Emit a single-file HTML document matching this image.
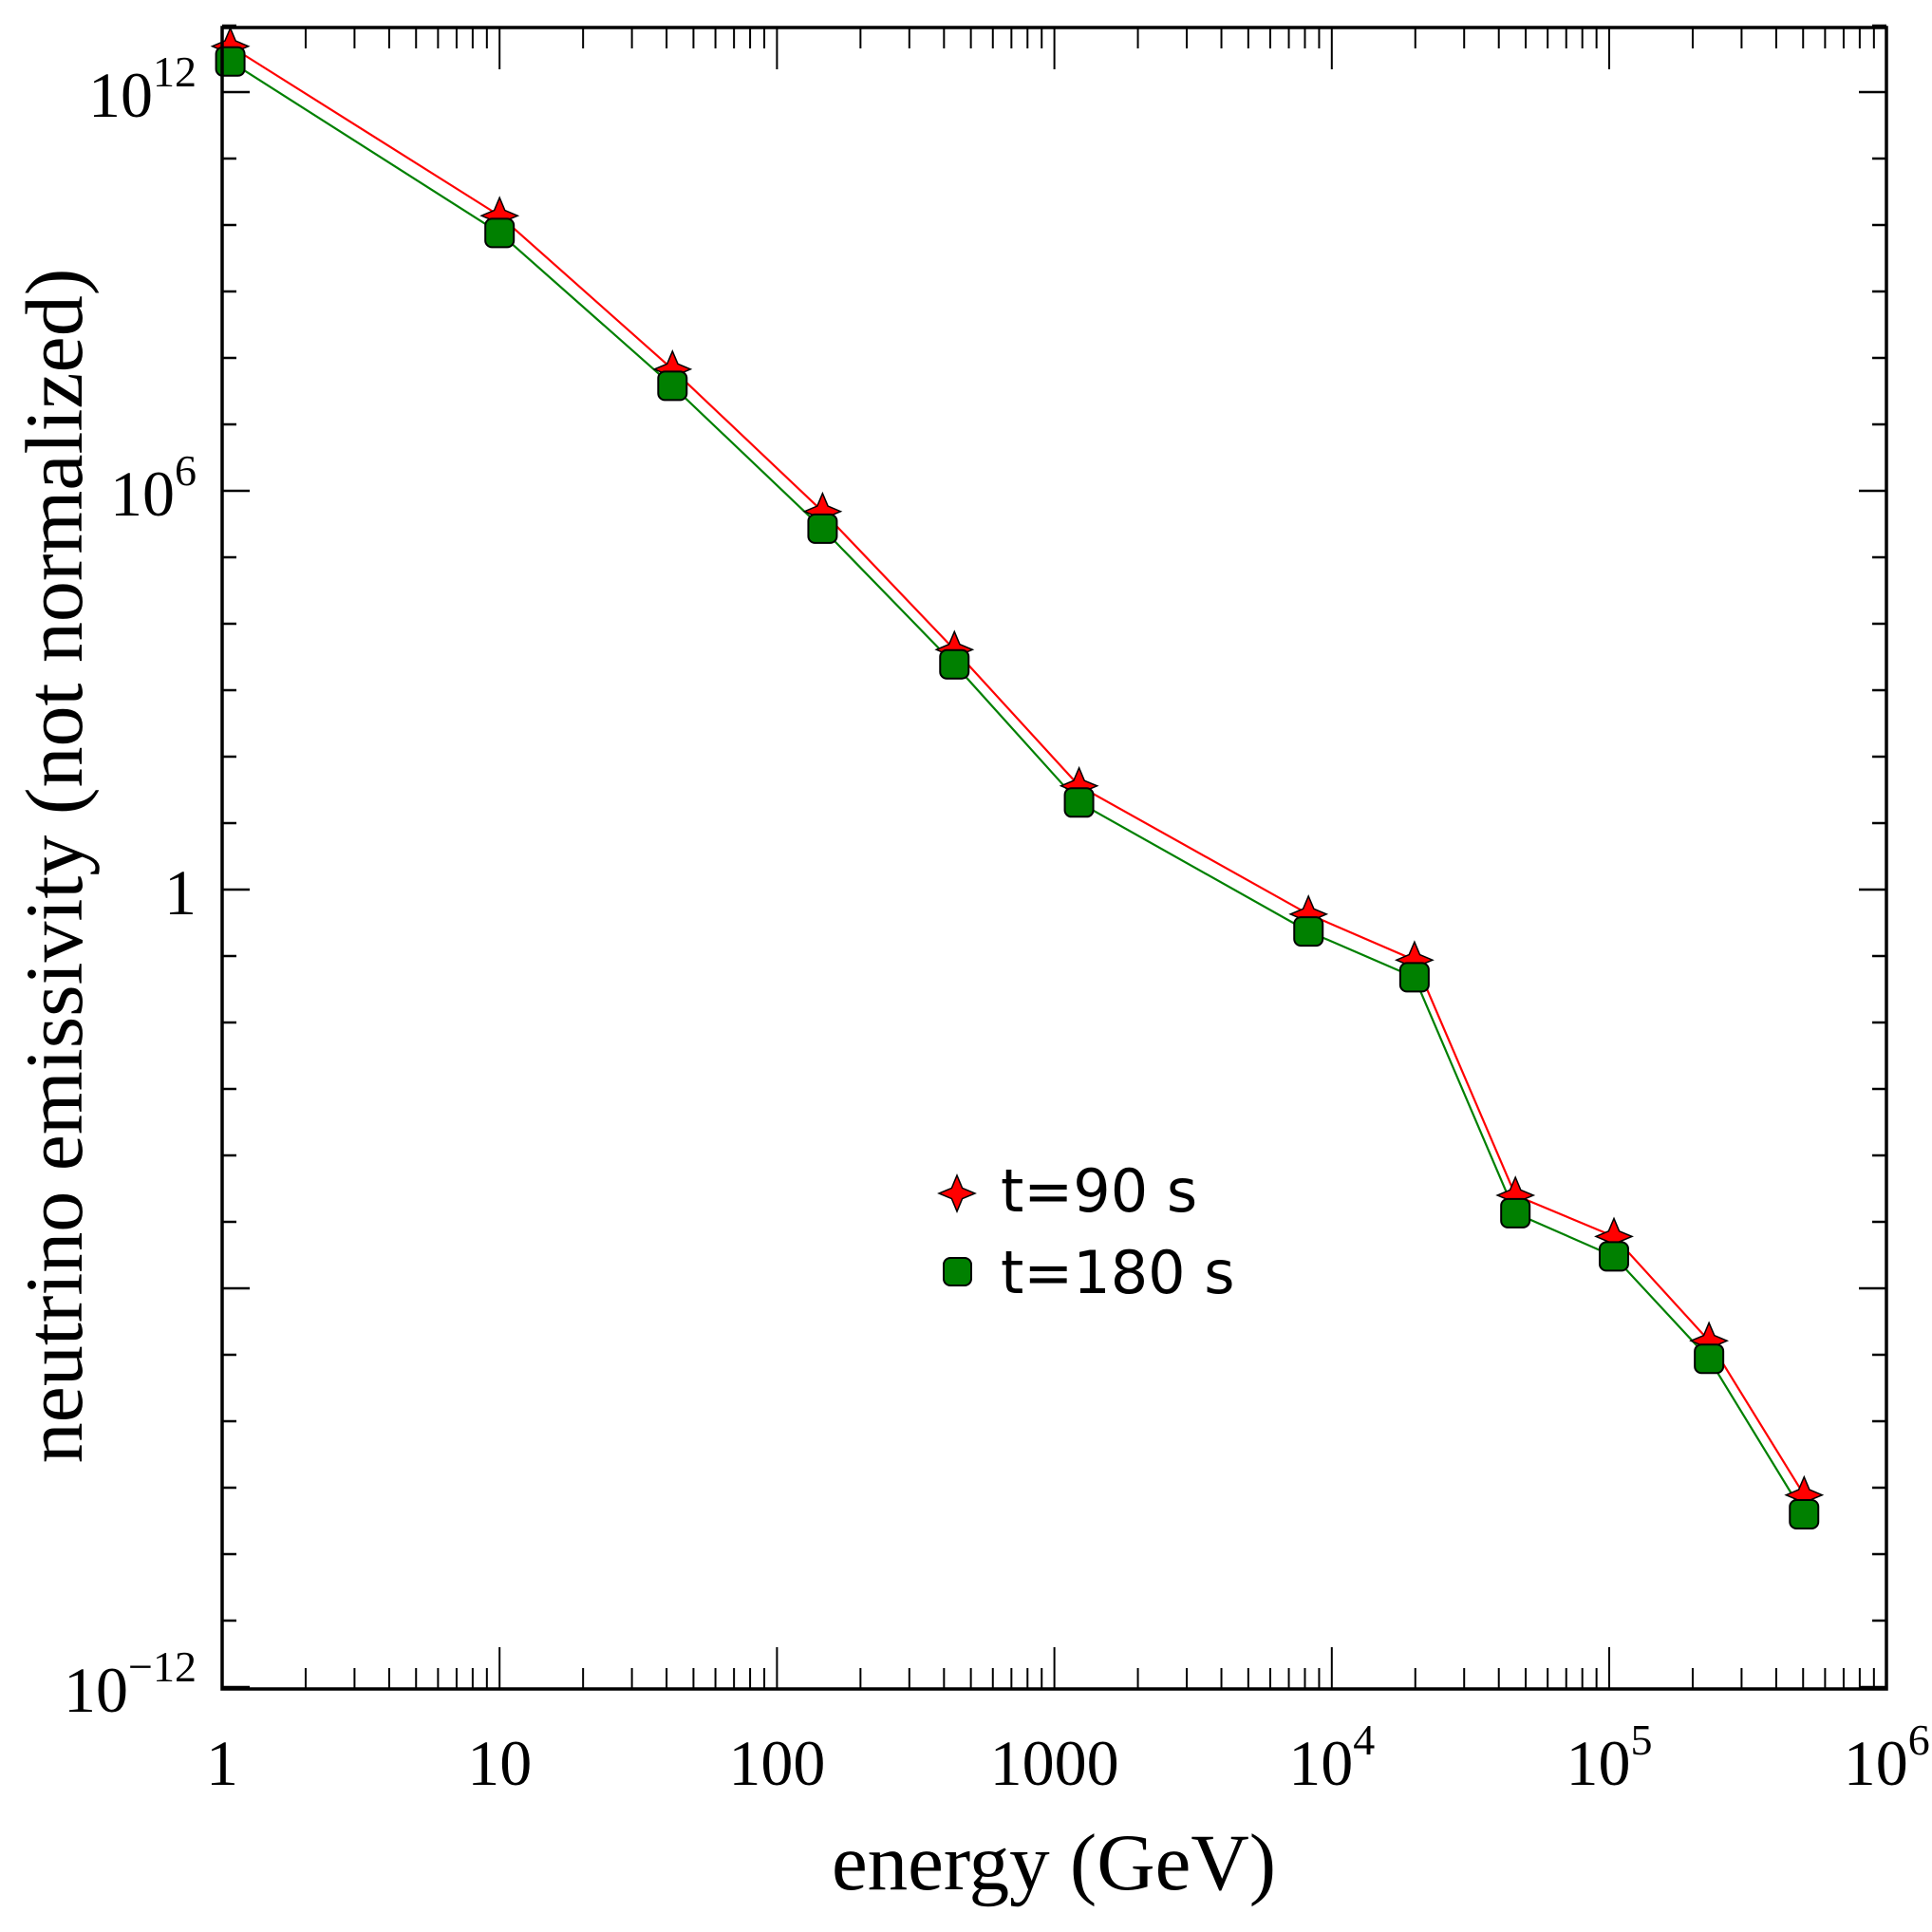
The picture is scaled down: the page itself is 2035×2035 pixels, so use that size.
<!DOCTYPE html>
<html><head><meta charset="utf-8"><style>
html,body{margin:0;padding:0;background:#fff;}
svg{display:block;}
</style></head><body>
<svg id="chart" width="2035" height="2035" viewBox="0 0 2035 2035" xmlns="http://www.w3.org/2000/svg">
<g id="ticks"></g>
<g id="series"></g>
<rect x="234" y="29" width="1753" height="1750" fill="none" stroke="#000" stroke-width="3.5"/>
<g id="labels" font-family="'Liberation Serif',serif" font-size="68" fill="#000"></g>
<text x="1110" y="1990" text-anchor="middle" font-family="'Liberation Serif',serif" font-size="85">energy (GeV)</text>
<text transform="translate(86,912) rotate(-90)" text-anchor="middle" font-family="'Liberation Serif',serif" font-size="86">neutrino emissivity (not normalized)</text>
<g>
<g>
<path id="legStar" d="" fill="#f00" stroke="#000" stroke-width="1.5"/>
<text x="1054" y="1276" font-family="'DejaVu Sans',sans-serif" font-size="62">t=90 s</text>
</g>
<g>
<rect x="994" y="1325" width="29" height="29" rx="7" fill="#008000" stroke="#000" stroke-width="2"/>
<text x="1054" y="1362" font-family="'DejaVu Sans',sans-serif" font-size="62">t=180 s</text>
</g>
</g>
</svg>
<script>
const energies = [1.07, 10, 42, 146, 436, 1227, 8240, 19860, 45900, 104000, 229000, 504000];
const logT90 = [12.69, 10.14, 7.83, 5.69, 3.61, 1.56, -0.37, -1.06, -4.6, -5.22, -6.79, -9.11];
const logT180 = [12.46, 9.88, 7.58, 5.43, 3.39, 1.31, -0.63, -1.32, -4.87, -5.52, -7.06, -9.40];
const xTickLabels = ["1","10","100","1000","10|4","10|5","10|6"];
const yTickValues = [12, 6, 0, -12];
const yTickLabels = ["10|12","10|6","1","10|−12"];

const L=234,R=1987,T=29,B=1779,XD=292.2,YD=70.0,Y0=1777;
const NS="http://www.w3.org/2000/svg";
function xs(v){return L+Math.log10(v)*XD;}
function ysLog(lv){return Y0-(lv+12)*YD;}
function mk(tag,attrs,parent){const e=document.createElementNS(NS,tag);for(const k in attrs)e.setAttribute(k,attrs[k]);parent.appendChild(e);return e;}
function starPath(cx,cy,r){let d="";for(let i=0;i<8;i++){const a=-Math.PI/2+i*Math.PI/4;const rr=i%2?r*0.42:r;d+=(i?"L":"M")+(cx+rr*Math.cos(a)).toFixed(1)+","+(cy+rr*Math.sin(a)).toFixed(1);}return d+"Z";}

const ticks=document.getElementById('ticks');
for(let d=0;d<6;d++){for(let m=1;m<10;m++){const v=Math.pow(10,d)*m;const x=xs(v);const len=m===1?44:22;
 const t1=mk('line',{x1:x,y1:B,x2:x,y2:B-len,stroke:'#000','stroke-width':2},ticks);
 
 
 const t2=mk('line',{x1:x,y1:T,x2:x,y2:T+len,stroke:'#000','stroke-width':2},ticks);
 
 }}
for(let lv=-12;lv<=13;lv++){const y=ysLog(lv);const len=(lv%6===0)?29:15;
 const t1=mk('line',{x1:L,y1:y,x2:L+len,y2:y,stroke:'#000','stroke-width':2.5},ticks);
 
 
 const t2=mk('line',{x1:R,y1:y,x2:R-len,y2:y,stroke:'#000','stroke-width':2.5},ticks);
 
 }

const labels=document.getElementById('labels');
function label(txt,x,y,anchor,name){
 const parts=txt.split('|');
 const t=mk('text',{x:x,y:y,'text-anchor':anchor},labels);
 
 
 t.textContent=parts[0];
 if(parts[1]){const s=mk('tspan',{dy:-32,'font-size':46},t);s.textContent=parts[1];}
}
xTickLabels.forEach((s,i)=>{label(s,xs(Math.pow(10,i)),1880,'middle','x-tick-label');});
yTickValues.forEach((lv,i)=>{label(yTickLabels[i],207,ysLog(lv)+26,'end','y-tick-label');});

const series=document.getElementById('series');
function line(vals,color,name){let d="";energies.forEach((e,i)=>{d+=(i?"L":"M")+xs(e).toFixed(1)+","+ysLog(vals[i]).toFixed(1);});
 const p=mk('path',{d:d,fill:'none',stroke:color,'stroke-width':2.2},series);
 
 }
line(logT90,'#f00','line-t90');
line(logT180,'#008000','line-t180');
energies.forEach((e,i)=>{
 const p=mk('path',{d:starPath(xs(e),ysLog(logT90[i]),19),fill:'#f00',stroke:'#000','stroke-width':1.5},series);
 
 });
energies.forEach((e,i)=>{
 const r=mk('rect',{x:xs(e)-15,y:ysLog(logT180[i])-15,width:30,height:30,rx:7,fill:'#008000',stroke:'#000','stroke-width':2},series);
 
 });
document.getElementById('legStar').setAttribute('d',starPath(1008,1257,19));
</script>
</body></html>
